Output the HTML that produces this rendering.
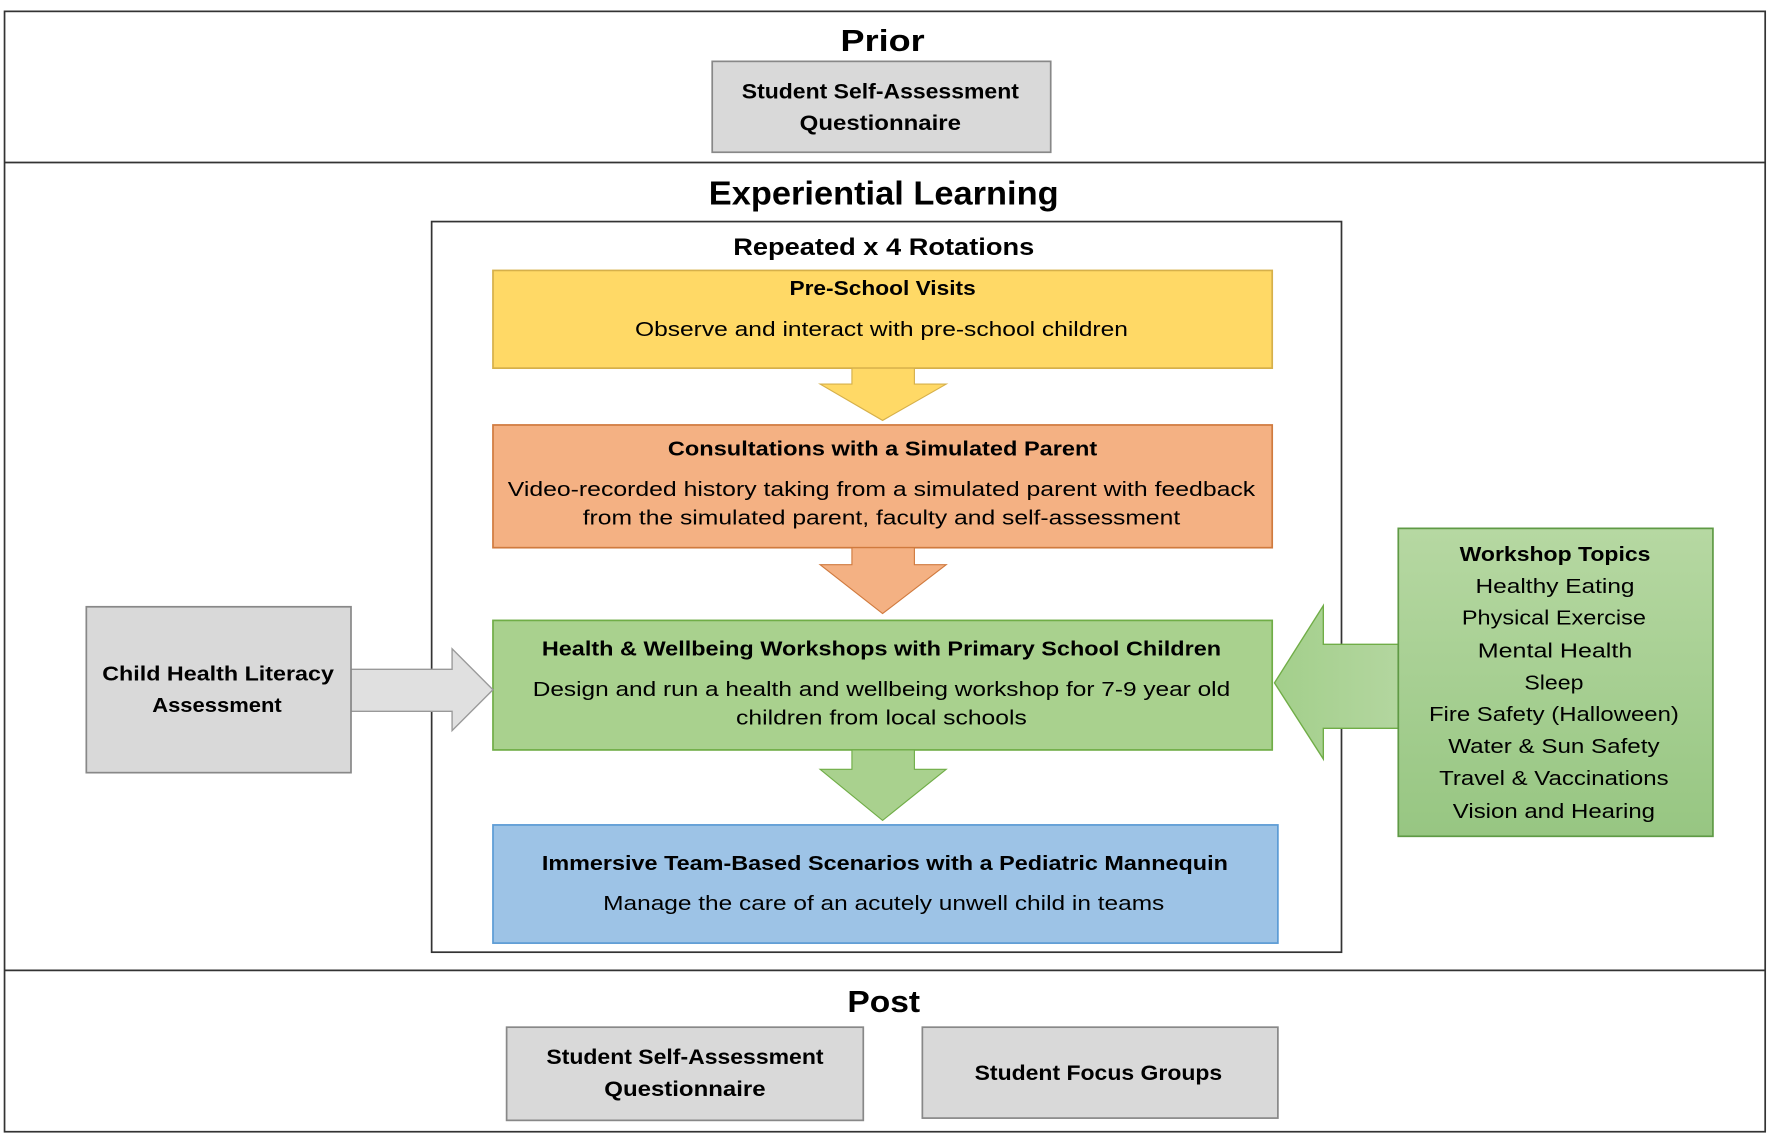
<!DOCTYPE html>
<html><head><meta charset="utf-8"><style>html,body{margin:0;padding:0;background:#fff}svg{display:block}text{font-family:"Liberation Sans",sans-serif;fill:#000;dominant-baseline:central;text-anchor:middle}.b{font-weight:bold}</style></head>
<body>
<svg width="1772" height="1134" viewBox="0 0 1560 998" preserveAspectRatio="none" xmlns="http://www.w3.org/2000/svg">
<defs><linearGradient id="g" x1="0" y1="0" x2="0" y2="1"><stop offset="0" stop-color="#b6d8a2"/><stop offset="1" stop-color="#97c682"/></linearGradient>
<linearGradient id="ga" x1="0" y1="0" x2="1" y2="0"><stop offset="0" stop-color="#a3cf8b"/><stop offset="1" stop-color="#b3d69f"/></linearGradient></defs>
<rect x="4" y="10" width="1550" height="986" fill="#fff" stroke="#333" stroke-width="1.5"/>
<line x1="4" y1="143" x2="1554" y2="143" stroke="#333" stroke-width="1.5"/>
<line x1="4" y1="854" x2="1554" y2="854" stroke="#333" stroke-width="1.5"/>
<text x="777" y="36" class="b" font-size="27" textLength="74" lengthAdjust="spacingAndGlyphs">Prior</text>
<rect x="627" y="54" width="298" height="80" fill="#d9d9d9" stroke="#888" stroke-width="1.5"/>
<text x="775" y="80" class="b" font-size="19" textLength="244" lengthAdjust="spacingAndGlyphs">Student Self-Assessment</text>
<text x="775" y="108" class="b" font-size="19" textLength="142" lengthAdjust="spacingAndGlyphs">Questionnaire</text>
<text x="778" y="170" class="b" font-size="29" textLength="308" lengthAdjust="spacingAndGlyphs">Experiential Learning</text>
<rect x="380" y="195" width="801" height="643" fill="#fff" stroke="#333" stroke-width="1.5"/>
<text x="778" y="218" class="b" font-size="21" textLength="265" lengthAdjust="spacingAndGlyphs">Repeated x 4 Rotations</text>
<!-- yellow -->
<rect x="434" y="238" width="686" height="86" fill="#ffd966" stroke="#d6b04a" stroke-width="1.5"/>
<text x="777" y="254" class="b" font-size="18" textLength="164" lengthAdjust="spacingAndGlyphs">Pre-School Visits</text>
<text x="776" y="290" font-size="18" textLength="434" lengthAdjust="spacingAndGlyphs">Observe and interact with pre-school children</text>
<polygon points="750,324 805,324 805,338 833,338 777,370 722,338 750,338" fill="#ffd966" stroke="#d6b04a" stroke-width="1"/>
<!-- orange -->
<rect x="434" y="374" width="686" height="108" fill="#f4b183" stroke="#d07a3e" stroke-width="1.5"/>
<text x="777" y="395" class="b" font-size="18" textLength="378" lengthAdjust="spacingAndGlyphs">Consultations with a Simulated Parent</text>
<text x="776" y="431" font-size="18" textLength="658" lengthAdjust="spacingAndGlyphs">Video-recorded history taking from a simulated parent with feedback</text>
<text x="776" y="456" font-size="18" textLength="526" lengthAdjust="spacingAndGlyphs">from the simulated parent, faculty and self-assessment</text>
<polygon points="750,482 805,482 805,497 833,497 777,540 722,497 750,497" fill="#f4b183" stroke="#d07a3e" stroke-width="1"/>
<!-- green -->
<rect x="434" y="546" width="686" height="114" fill="#a9d18e" stroke="#70ad47" stroke-width="1.5"/>
<text x="776" y="571" class="b" font-size="18" textLength="598" lengthAdjust="spacingAndGlyphs">Health &amp; Wellbeing Workshops with Primary School Children</text>
<text x="776" y="607" font-size="18" textLength="614" lengthAdjust="spacingAndGlyphs">Design and run a health and wellbeing workshop for 7-9 year old</text>
<text x="776" y="632" font-size="18" textLength="256" lengthAdjust="spacingAndGlyphs">children from local schools</text>
<polygon points="750,660 805,660 805,677 833,677 777,722 722,677 750,677" fill="#a9d18e" stroke="#70ad47" stroke-width="1"/>
<!-- blue -->
<rect x="434" y="726" width="691" height="104" fill="#9dc3e6" stroke="#5b9bd5" stroke-width="1.5"/>
<text x="779" y="760" class="b" font-size="18" textLength="604" lengthAdjust="spacingAndGlyphs">Immersive Team-Based Scenarios with a Pediatric Mannequin</text>
<text x="778" y="795" font-size="18" textLength="494" lengthAdjust="spacingAndGlyphs">Manage the care of an acutely unwell child in teams</text>
<!-- left gray -->
<polygon points="309,589 398,589 398,571 434,607 398,643 398,626 309,626" fill="#e0e0e0" stroke="#999" stroke-width="1.2"/>
<rect x="76" y="534" width="233" height="146" fill="#d9d9d9" stroke="#888" stroke-width="1.5"/>
<text x="192" y="593" class="b" font-size="18" textLength="204" lengthAdjust="spacingAndGlyphs">Child Health Literacy</text>
<text x="191" y="621" class="b" font-size="18" textLength="114" lengthAdjust="spacingAndGlyphs">Assessment</text>
<!-- right green -->
<polygon points="1231,567 1165,567 1165,533 1122,601 1165,668 1165,641 1231,641" fill="url(#ga)" stroke="#70ad47" stroke-width="1.2"/>
<rect x="1231" y="465" width="277" height="271" fill="url(#g)" stroke="#5f9a45" stroke-width="1.5"/>
<text x="1369" y="488" class="b" font-size="18" textLength="168" lengthAdjust="spacingAndGlyphs">Workshop Topics</text>
<text x="1369" y="516" font-size="18" textLength="140" lengthAdjust="spacingAndGlyphs">Healthy Eating</text>
<text x="1368" y="544" font-size="18" textLength="162" lengthAdjust="spacingAndGlyphs">Physical Exercise</text>
<text x="1369" y="573" font-size="18" textLength="136" lengthAdjust="spacingAndGlyphs">Mental Health</text>
<text x="1368" y="601" font-size="18" textLength="52" lengthAdjust="spacingAndGlyphs">Sleep</text>
<text x="1368" y="629" font-size="18" textLength="220" lengthAdjust="spacingAndGlyphs">Fire Safety (Halloween)</text>
<text x="1368" y="657" font-size="18" textLength="186" lengthAdjust="spacingAndGlyphs">Water &amp; Sun Safety</text>
<text x="1368" y="685" font-size="18" textLength="202" lengthAdjust="spacingAndGlyphs">Travel &amp; Vaccinations</text>
<text x="1368" y="714" font-size="18" textLength="178" lengthAdjust="spacingAndGlyphs">Vision and Hearing</text>
<!-- post -->
<text x="778" y="882" class="b" font-size="27" textLength="64" lengthAdjust="spacingAndGlyphs">Post</text>
<rect x="446" y="904" width="314" height="82" fill="#d9d9d9" stroke="#888" stroke-width="1.5"/>
<text x="603" y="930" class="b" font-size="19" textLength="244" lengthAdjust="spacingAndGlyphs">Student Self-Assessment</text>
<text x="603" y="958" class="b" font-size="19" textLength="142" lengthAdjust="spacingAndGlyphs">Questionnaire</text>
<rect x="812" y="904" width="313" height="80" fill="#d9d9d9" stroke="#888" stroke-width="1.5"/>
<text x="967" y="944" class="b" font-size="19" textLength="218" lengthAdjust="spacingAndGlyphs">Student Focus Groups</text>
</svg>
</body></html>
